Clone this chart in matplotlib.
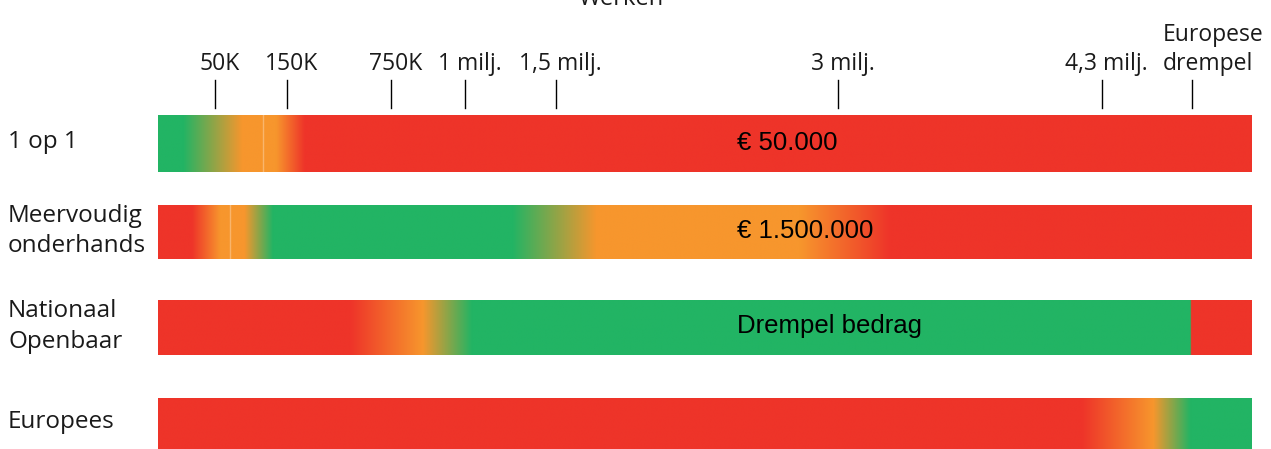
import numpy as np
import matplotlib
matplotlib.use("Agg")
import matplotlib.pyplot as plt
from matplotlib.colors import to_rgb
from matplotlib.transforms import blended_transform_factory

# ---------------- data ----------------
categories = ["1 op 1", "Meervoudig\nonderhands", "Nationaal\nOpenbaar", "Europees"]
tick_labels = ["50K", "150K", "750K", "1 milj.", "1,5 milj.", "3 milj.", "4,3 milj.", "Europese\ndrempel"]
tick_pos = [5.2, 11.8, 21.3, 28.1, 36.4, 62.2, 86.3, 94.5]   # position on the bar scale (0-100)

GREEN = "#22B464"
ORANGE = "#F7962D"
RED = "#EE3429"

# colour stops per bar: (position on 0-100 scale, colour)
stops_1op1 = [(0, GREEN), (2.3, GREEN), (7.7, ORANGE), (10.8, ORANGE), (13.4, RED), (100, RED)]
stops_meervoudig = [(0, RED), (3.1, RED), (5.7, ORANGE), (7.9, ORANGE), (10.5, GREEN),
                    (32.4, GREEN), (40.1, ORANGE), (58.7, ORANGE), (66.9, RED), (100, RED)]
stops_nationaal = [(0, RED), (17.6, RED), (24.2, ORANGE), (28.7, GREEN), (94.4, GREEN),
                   (94.45, RED), (100, RED)]
stops_europees = [(0, RED), (84.5, RED), (91.0, ORANGE), (94.4, GREEN), (100, GREEN)]
bar_stops = [stops_1op1, stops_meervoudig, stops_nationaal, stops_europees]

bar_texts = ["€ 50.000", "€ 1.500.000", "Drempel bedrag", ""]
seams = [[9.6], [6.6], [], []]

# ---------------- layout ----------------
W, H = 1271, 449
fig = plt.figure(figsize=(W / 100, H / 100), dpi=100)
left_px, right_px = 158, 1252
ax = fig.add_axes([left_px / W, 0, (right_px - left_px) / W, 1])
ax.set_xlim(0, 100)
ax.set_ylim(H, 0)
ax.axis("off")

bar_top = [115, 205, 300, 398]
bar_bot = [172, 259, 355, 453]

xs = np.linspace(0, 100, 3000)
for stops, top, bot, seam in zip(bar_stops, bar_top, bar_bot, seams):
    pos = [s[0] for s in stops]
    cols = np.array([to_rgb(s[1]) for s in stops])
    img = np.stack([np.interp(xs, pos, cols[:, c]) for c in range(3)], axis=-1)[None, :, :]
    ax.imshow(img, extent=(0, 100, bot, top), aspect="auto", interpolation="bilinear", zorder=1)
    for s in seam:
        ax.plot([s, s], [top, bot], color="white", alpha=0.3, lw=1, zorder=2)

ax.set_xlim(0, 100)
ax.set_ylim(H, 0)

label_font = "Open Sans"
# tick marks and labels
for i, (p, lab) in enumerate(zip(tick_pos, tick_labels)):
    ax.plot([p, p], [80, 108], color="black", lw=1, zorder=3)
    if "\n" in lab:
        ax.text(p - 2.65, 70, lab, ha="left", va="baseline", fontsize=16.5,
                family=label_font, color="#1a1a1a", linespacing=1.3)
    else:
        ax.text(p + 0.4, 70, lab, ha="center", va="baseline", fontsize=16.5,
                family=label_font, color="#1a1a1a")

# title (cut off at the top of the image)
ax.text(42.3, 5, "Werken", ha="center", va="baseline", fontsize=17, family=label_font,
        color="#1a1a1a", clip_on=False)

# category labels on the left
tr = blended_transform_factory(fig.transFigure, ax.transData)
for cat, top, bot in zip(categories, bar_top, [172, 259, 355, 448]):
    fig.text(8 / W, (top + bot) / 2 - 1, cat, transform=tr, ha="left", va="center",
             fontsize=17.5, family=label_font, color="#1a1a1a", linespacing=1.35)

# texts inside bars
for txt, top, bot in zip(bar_texts, bar_top, bar_bot):
    if txt:
        ax.text(52.9, (top + bot) / 2 - 1, txt, ha="left", va="center", fontsize=18.5,
                family="Liberation Sans", color="black", zorder=4)

fig.savefig("out.png", dpi=100)
